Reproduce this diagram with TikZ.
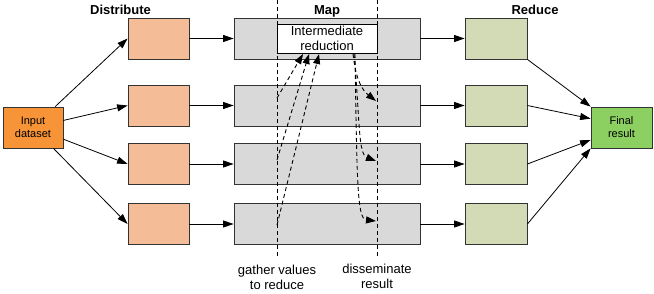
\documentclass[tikz,border=0pt]{standalone}
\usepackage{fontspec}
\setmainfont{Liberation Sans}
\usetikzlibrary{arrows.meta}
\definecolor{inputcol}{HTML}{F79437}
\definecolor{distcol}{HTML}{F5BD97}
\definecolor{mapcol}{HTML}{D9D9D9}
\definecolor{redcol}{HTML}{D3DBB6}
\definecolor{fincol}{HTML}{8CD062}
\begin{document}
\begin{tikzpicture}[x=1pt,y=-1pt,
  box/.style={draw=black!80, line width=0.8pt, inner sep=0pt, minimum height=41pt},
  small/.style={font=\fontsize{11}{13}\selectfont, align=center},
  lbl/.style={font=\fontsize{13}{15}\selectfont, align=center, inner sep=0pt},
  head/.style={font=\fontsize{13}{15}\selectfont\bfseries, inner sep=0pt, anchor=base},
  arr/.style={-{Triangle[length=10.5pt,width=7pt]}, line width=0.8pt},
  darr/.style={-{Triangle[length=10pt,width=7pt]}, line width=0.9pt, dash pattern=on 4pt off 3pt},
  vdash/.style={line width=0.9pt, dash pattern=on 4pt off 3pt}]
\useasboundingbox (0,0) rectangle (654,294);

% vertical dashed lines
\coordinate (vl1) at (277,0);
\coordinate (vl2) at (277,258);
\coordinate (vr1) at (377,0);
\coordinate (vr2) at (377,258);

% input / final
\node[box, fill=inputcol, minimum width=60pt, small] (in) at (33,127.5) {Input\\dataset};
\node[box, fill=fincol, minimum width=61pt, small] (fin) at (621.5,127.5) {Final\\result};

% rows
\foreach \i/\y in {1/38.5, 2/105.5, 3/164, 4/224}{
  \node[box, fill=distcol, minimum width=61pt] (d\i) at (158.5,\y) {};
  \node[box, fill=mapcol, minimum width=186pt] (m\i) at (327,\y) {};
  \node[box, fill=redcol, minimum width=62pt] (r\i) at (496,\y) {};
  \draw[arr] (d\i.east) -- (m\i.west);
  \draw[arr] (m\i.east) -- (r\i.west);
  \draw[arr] (in) -- (d\i.west);
}

\draw[vdash] (vl1) -- (vl2);
\draw[vdash] (vr1) -- (vr2);

% intermediate reduction
\node[draw=black, line width=0.9pt, fill=white, minimum width=100pt, minimum height=29pt, inner sep=0pt, lbl] (ir) at (327,38.5) {Intermediate\\reduction};

% reduce -> final
\draw[arr] (r1.south east) -- (fin.north west);
\draw[arr] (r2.east) -- (fin.164);
\draw[arr] (r3.east) -- (fin.202);
\draw[arr] (r4.east) -- (fin.south west);

% headings
\node[head] (hd) at (120.5,15) {Distribute};
\node[head] (hm) at (327,15) {Map};
\node[head] (hr) at (535,15) {Reduce};

% gather arrows
\coordinate (g1) at (277,98);
\coordinate (g2) at (277,160);
\coordinate (g3) at (277,225);
\coordinate (ge1) at (303,54);
\coordinate (ge2) at (309,54);
\coordinate (ge3) at (319,54);
\draw[darr] (g1) -- (ge1);
\draw[darr] (g2) -- (ge2);
\draw[darr] (g3) -- (ge3);

% disseminate arrows
\coordinate (s1) at (353,54);
\coordinate (s2) at (354,54);
\coordinate (s3) at (355,54);
\coordinate (t1) at (376,101);
\coordinate (t2) at (376,161);
\coordinate (t3) at (376,221);
\draw[darr] (s1) .. controls (356,80) and (362,90) .. (t1);
\draw[darr] (s2) .. controls (360,120) and (358,154) .. (t2);
\draw[darr] (s3) .. controls (357,180) and (357,219) .. (t3);

% bottom labels
\node[lbl] (lg) at (277,277) {gather values\\to reduce};
\node[lbl] (ld) at (377,276) {disseminate\\result};
\end{tikzpicture}
\end{document}
